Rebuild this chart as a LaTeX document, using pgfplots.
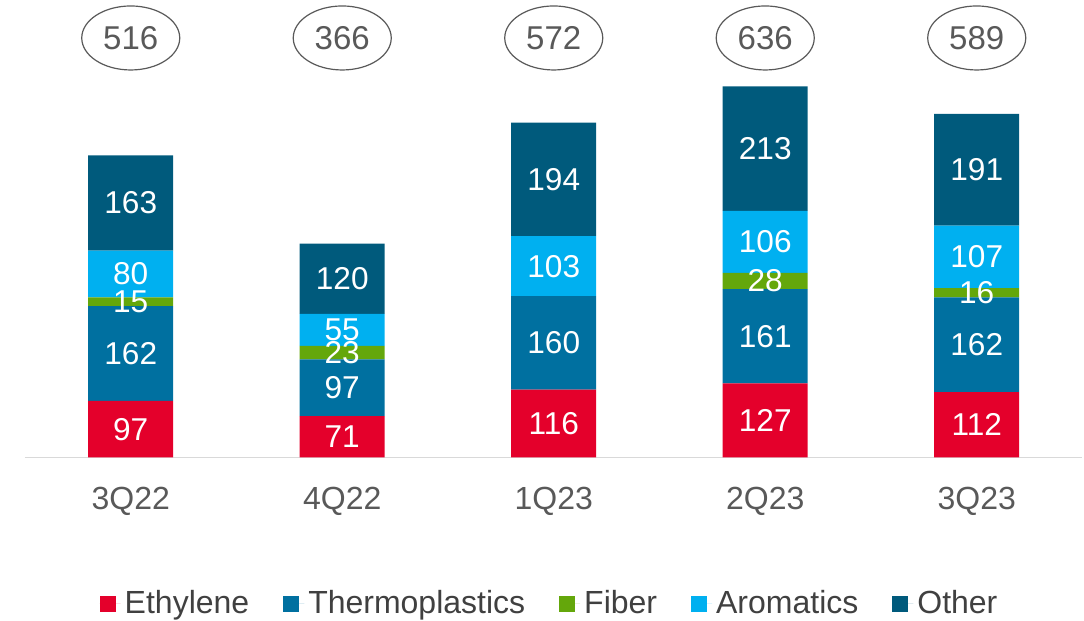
\documentclass[border=0pt]{standalone}
\usepackage{pgfplots}
\pgfplotsset{compat=1.18}
\usepackage{fontspec}
\setmainfont{Liberation Sans}
\usetikzlibrary{shapes.geometric}
\definecolor{cEth}{RGB}{228,0,43}
\definecolor{cThe}{RGB}{0,112,160}
\definecolor{cFib}{RGB}{100,167,11}
\definecolor{cAro}{RGB}{0,176,240}
\definecolor{cOth}{RGB}{0,90,124}
\definecolor{tgray}{RGB}{89,89,89}
\definecolor{lgray}{RGB}{64,64,64}
\pgfplotsset{sqleg/.style={legend image code/.code={\fill[##1] (0pt,-4pt) rectangle (8pt,4pt); \path (0pt,0pt) -- (10.5pt,0pt);}}}
\tikzset{tot/.style={draw=tgray, line width=0.6pt, ellipse, minimum width=49pt, minimum height=32pt, inner sep=0pt, text=tgray, font=\fontsize{16.5}{18}\selectfont}}
\begin{document}
\begin{tikzpicture}
\useasboundingbox (0,0) rectangle (542pt,310.5pt);
\begin{axis}[
  at={(12.5pt,81.75pt)}, anchor=south west,
  scale only axis, width=528.75pt, height=228.75pt,
  ybar stacked, bar width=42.5pt,
  xmin=-0.5, xmax=4.5, ymin=0, ymax=783,
  axis y line=none, axis x line=bottom,
  x axis line style={-, draw=black!15, line width=0.8pt},
  xtick={0,...,4}, xticklabels={3Q22,4Q22,1Q23,2Q23,3Q23},
  xtick style={draw=none},
  xticklabel style={anchor=base, yshift=-24pt, font=\fontsize{16}{18}\selectfont, text=tgray},
  clip=false,
  /pgf/number format/assume math mode=true,
  nodes near coords={\pgfmathfloatifflags{\pgfplotspointmeta}{0}{}{\pgfmathprintnumber{\pgfplotspointmeta}}},
  every node near coord/.append style={anchor=center, text=white, font=\fontsize{15.8}{18}\selectfont},
  legend columns=5,
  legend style={at={(0.497,-0.32)}, anchor=center, draw=none, fill=none, font=\fontsize{16}{18}\selectfont, text=lgray, /tikz/every even column/.append style={column sep=15pt}},
]
\addplot[fill=cEth, draw=none, sqleg] coordinates {(0,97) (1,71) (2,116) (3,127) (4,112)};
\addplot[fill=cThe, draw=none, sqleg] coordinates {(0,162) (1,97) (2,160) (3,161) (4,162)};
\addplot[fill=cFib, draw=none, sqleg] coordinates {(0,15) (1,23) (2,0) (3,28) (4,16)};
\addplot[fill=cAro, draw=none, sqleg] coordinates {(0,80) (1,55) (2,103) (3,106) (4,107)};
\addplot[fill=cOth, draw=none, sqleg] coordinates {(0,163) (1,120) (2,194) (3,213) (4,191)};
\legend{Ethylene,Thermoplastics,Fiber,Aromatics,Other}
\node[tot] at (axis cs:0,718) {516};
\node[tot] at (axis cs:1,718) {366};
\node[tot] at (axis cs:2,718) {572};
\node[tot] at (axis cs:3,718) {636};
\node[tot] at (axis cs:4,718) {589};
\end{axis}
\end{tikzpicture}
\end{document}
